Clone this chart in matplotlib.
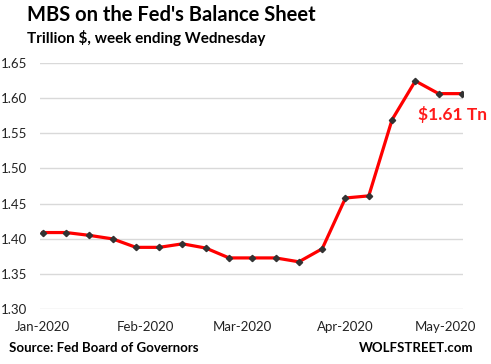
import matplotlib
matplotlib.use('Agg')
import matplotlib.pyplot as plt
import matplotlib.dates as mdates
import pandas as pd

# weekly data, week ending Wednesday (trillion $)
weeks = pd.date_range('2020-01-01', '2020-05-06', freq='7D')
mbs = [1.409, 1.409, 1.405, 1.400, 1.388, 1.388, 1.393, 1.387, 1.373,
       1.373, 1.373, 1.3675, 1.386, 1.458, 1.461, 1.569, 1.624, 1.606, 1.606]

title = "MBS on the Fed's Balance Sheet"
subtitle = "Trillion $, week ending Wednesday"
source = "Source: Fed Board of Governors"
brand = "WOLFSTREET.com"
last_label = "$1.61 Tn"

plt.rcParams['font.family'] = ['Lato', 'DejaVu Sans']

fig = plt.figure(figsize=(4.91, 3.64), dpi=100)
ax = fig.add_axes([0.0815, 0.150, 0.8615, 0.678])

ax.plot(weeks, mbs, color='#ff0000', lw=2.3, zorder=3,
        marker='D', markersize=3.2, markerfacecolor='#333333',
        markeredgecolor='#333333')

# axes setup
ax.set_ylim(1.30, 1.65)
ax.set_yticks([1.30, 1.35, 1.40, 1.45, 1.50, 1.55, 1.60, 1.65])
ax.yaxis.set_major_formatter(matplotlib.ticker.FormatStrFormatter('%.2f'))
ax.set_xlim(weeks[0] - pd.Timedelta(hours=20), weeks[-1] + pd.Timedelta(hours=8))
ax.xaxis.set_major_locator(mdates.MonthLocator())
ax.xaxis.set_major_formatter(mdates.DateFormatter('%b-%Y'))

ax.grid(True, axis='y', color='#d9d9d9', lw=1)
ax.set_axisbelow(True)
for s in ax.spines.values():
    s.set_visible(False)
ax.tick_params(axis='both', length=0, labelsize=9.5, colors='#222222')
ax.tick_params(axis='y', pad=9)
ax.tick_params(axis='x', pad=8)

# annotation on last value
ax.annotate(last_label, xy=(weeks[-3], mbs[-1]), xytext=(2, -9),
            textcoords='offset points', ha='left', va='top',
            color='#ff1a1a', fontsize=12.5, fontweight='bold',
            annotation_clip=False)

# titles and footer
fig.text(27 / 491, 1 - 20.7 / 364, title, fontsize=14.5, fontweight='bold',
         va='baseline', ha='left')
fig.text(27 / 491, 1 - 42.7 / 364, subtitle, fontsize=11, fontweight='bold',
         va='baseline', ha='left')
fig.text(9 / 491, 1 - 352 / 364, source, fontsize=9.5, fontweight='bold',
         va='baseline', ha='left')
fig.text(473 / 491, 1 - 352 / 364, brand, fontsize=9.5, fontweight='bold',
         va='baseline', ha='right')

fig.savefig('out.png', dpi=100)
